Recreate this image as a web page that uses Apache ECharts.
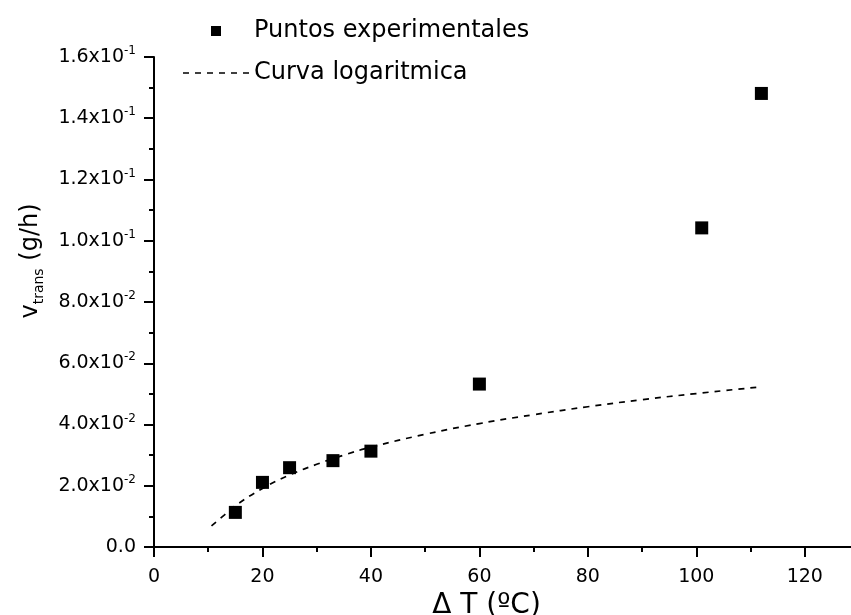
<!DOCTYPE html>
<html>
<head>
<meta charset="utf-8">
<title>v_trans vs ΔT</title>
<script src="https://cdn.jsdelivr.net/npm/echarts@6/dist/echarts.min.js"></script>
<style>
  html, body { margin: 0; padding: 0; background: #fff; }
  #chart { width: 851px; height: 615px; }
</style>
</head>
<body>
<div id="chart"></div>
<script>
// Experimental points: temperature difference (ºC) and transport rate (g/h)
const deltaT = [15, 20, 25, 33, 40, 60, 101, 112];
const vTrans = [0.0113, 0.0211, 0.0259, 0.0282, 0.0313, 0.0532, 0.1042, 0.1481];

// Logarithmic fit curve, sampled along its length
const curveX = [10.6, 13, 15, 20, 25, 30, 35, 40, 50, 60, 70, 80, 90, 100, 112];
const curveY = [0.0069, 0.0105, 0.0135, 0.0191, 0.0235, 0.0270, 0.0300, 0.0326, 0.0368, 0.0403, 0.0432, 0.0458, 0.0481, 0.0501, 0.0523];

// Y tick labels written as mantissa x 10^exponent
const yTickMantissa = ['0.0', '2.0', '4.0', '6.0', '8.0', '1.0', '1.2', '1.4', '1.6'];
const yTickExponent = ['', '-2', '-2', '-2', '-2', '-1', '-1', '-1', '-1'];

const FONT = 'DejaVu Sans';
const INK = '#000';

// Legend keys: a filled square for the points, six short dashes for the fit
const SQUARE_ICON = 'path://M0,0h10v10h-10z';
const DASH_ICON = 'path://M0,0h6v1.6h-6zM12,0h6v1.6h-6zM24,0h6v1.6h-6zM36,0h6v1.6h-6zM48,0h6v1.6h-6zM60,0h6v1.6h-6z';

const chart = echarts.init(document.getElementById('chart'), null, { renderer: 'canvas' });

chart.setOption({
  animation: false,
  backgroundColor: '#fff',
  grid: { left: 154, top: 57, width: 705, height: 490, containLabel: false, outerBoundsMode: 'none' },
  legend: {
    orient: 'vertical',
    left: 178,
    top: 12,
    itemWidth: 66,
    itemHeight: 10,
    itemGap: 14,
    symbolKeepAspect: true,
    selectedMode: false,
    textStyle: { fontFamily: FONT, fontSize: 24, color: INK, lineHeight: 28 },
    data: [
      { name: 'Puntos experimentales', icon: SQUARE_ICON, itemStyle: { color: INK, opacity: 1 } },
      { name: 'Curva logaritmica', icon: DASH_ICON, itemStyle: { color: INK, opacity: 1 } }
    ]
  },
  xAxis: {
    type: 'value',
    min: 0,
    max: 130,
    interval: 20,
    name: 'Δ T (ºC)',
    nameLocation: 'middle',
    nameGap: 31,
    nameTextStyle: { fontFamily: FONT, fontSize: 28, color: INK, padding: [0, 40, 0, 0] },
    axisLine: { lineStyle: { color: INK, width: 2 } },
    axisTick: { length: 10, lineStyle: { color: INK, width: 2 } },
    minorTick: { show: true, splitNumber: 2, length: 5, lineStyle: { color: INK, width: 2 } },
    splitLine: { show: false },
    axisLabel: {
      margin: 21,
      showMaxLabel: false,
      fontFamily: FONT,
      fontSize: 19,
      color: INK
    }
  },
  yAxis: {
    type: 'value',
    min: 0,
    max: 0.16,
    interval: 0.02,
    name: '{v|v}{sub|trans}{v| (g/h)}',
    nameLocation: 'middle',
    nameRotate: 90,
    nameGap: 108,
    nameTextStyle: {
      padding: [0, 0, 0, 82],
      rich: {
        v: { fontFamily: FONT, fontSize: 24, color: INK, lineHeight: 30 },
        sub: { fontFamily: FONT, fontSize: 14, color: INK, lineHeight: 16, verticalAlign: 'bottom' }
      }
    },
    axisLine: { show: true, lineStyle: { color: INK, width: 2 } },
    axisTick: { show: true, length: 10, lineStyle: { color: INK, width: 2 } },
    minorTick: { show: true, splitNumber: 2, length: 5, lineStyle: { color: INK, width: 2 } },
    splitLine: { show: false },
    axisLabel: {
      margin: 18,
      showMaxLabel: true,
      formatter: function (value) {
        const i = Math.round(value / 0.02);
        const m = yTickMantissa[i];
        const e = yTickExponent[i];
        return e ? '{b|' + m + 'x10}{s|' + e + '}' : '{b|' + m + '}';
      },
      rich: {
        b: { fontFamily: FONT, fontSize: 19, color: INK, lineHeight: 24 },
        s: { fontFamily: FONT, fontSize: 12, color: INK, lineHeight: 12, verticalAlign: 'top' }
      }
    }
  },
  series: [
    {
      name: 'Curva logaritmica',
      type: 'line',
      smooth: true,
      symbol: 'none',
      z: 2,
      lineStyle: { color: INK, width: 1.7, type: [6, 6] },
      itemStyle: { color: INK },
      data: curveX.map((x, i) => [x, curveY[i]])
    },
    {
      name: 'Puntos experimentales',
      type: 'scatter',
      symbol: 'rect',
      symbolSize: 13,
      z: 3,
      itemStyle: { color: INK, opacity: 1 },
      data: deltaT.map((x, i) => [x, vTrans[i]])
    }
  ]
});
</script>
</body>
</html>
